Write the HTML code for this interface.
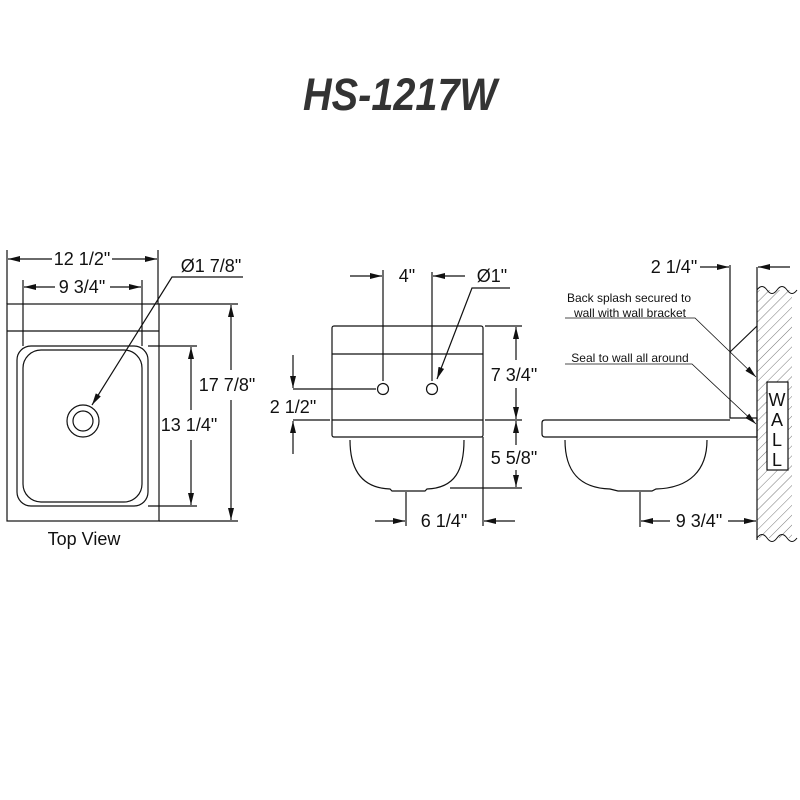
<!DOCTYPE html>
<html><head><meta charset="utf-8"><style>body{margin:0;background:#fff}svg{display:block}text{font-family:"Liberation Sans",sans-serif;fill:#111}</style></head><body>
<svg width="800" height="800" viewBox="0 0 800 800" xmlns="http://www.w3.org/2000/svg">
<defs>
<marker id="a" markerWidth="12" markerHeight="6" refX="12" refY="3" orient="auto" markerUnits="userSpaceOnUse"><path d="M0,0L12,3L0,6z" fill="#111"/></marker>
<pattern id="h" width="7" height="7" patternUnits="userSpaceOnUse" patternTransform="rotate(45)"><line x1="0" y1="0" x2="0" y2="7" stroke="#555" stroke-width="0.8"/></pattern>
</defs>
<text x="400" y="110" font-size="45" font-weight="bold" font-style="italic" text-anchor="middle" textLength="194" lengthAdjust="spacingAndGlyphs" style="fill:#333">HS-1217W</text>
<g fill="none" stroke="#111" stroke-width="1.2">
<rect x="7" y="304" width="152" height="217"/>
<line x1="7" y1="331" x2="159" y2="331"/>
<rect x="17" y="346" width="131" height="160" rx="14"/>
<rect x="23" y="350" width="119" height="152" rx="18"/>
<circle cx="83" cy="421" r="16"/><circle cx="83" cy="421" r="10"/>
<line x1="7" y1="250" x2="7" y2="304"/><line x1="158" y1="250" x2="158" y2="304"/>
<line x1="23" y1="280" x2="23" y2="346"/><line x1="142" y1="280" x2="142" y2="346"/>
<line x1="52" y1="259" x2="8" y2="259" marker-end="url(#a)"/><line x1="112" y1="259" x2="157" y2="259" marker-end="url(#a)"/>
<line x1="55" y1="287" x2="24" y2="287" marker-end="url(#a)"/><line x1="110" y1="287" x2="141" y2="287" marker-end="url(#a)"/>
<path d="M243,277H172L92,405" marker-end="url(#a)"/>
<line x1="159" y1="304" x2="238" y2="304"/><line x1="159" y1="521" x2="238" y2="521"/>
<line x1="231" y1="370" x2="231" y2="305" marker-end="url(#a)"/><line x1="231" y1="400" x2="231" y2="520" marker-end="url(#a)"/>
<line x1="148" y1="346" x2="197" y2="346"/><line x1="148" y1="506" x2="197" y2="506"/>
<line x1="191" y1="410" x2="191" y2="347" marker-end="url(#a)"/><line x1="191" y1="440" x2="191" y2="505" marker-end="url(#a)"/>
<rect x="332" y="326" width="151" height="111" rx="2"/>
<line x1="332" y1="354" x2="483" y2="354"/><line x1="332" y1="420" x2="483" y2="420"/>
<circle cx="383" cy="389" r="5.5"/><circle cx="432" cy="389" r="5.5"/>
<path d="M350,440C350,470 362,488 390,489L392,491H425L427,489C455,488 464,470 464,440"/>
<line x1="383" y1="270" x2="383" y2="381"/><line x1="432" y1="272" x2="432" y2="381"/>
<line x1="350" y1="276" x2="382" y2="276" marker-end="url(#a)"/><line x1="465" y1="276" x2="433" y2="276" marker-end="url(#a)"/>
<path d="M510,288H472L437,379" marker-end="url(#a)"/>
<line x1="485" y1="326" x2="522" y2="326"/><line x1="485" y1="420" x2="522" y2="420"/><line x1="450" y1="488" x2="522" y2="488"/>
<line x1="516" y1="360" x2="516" y2="327" marker-end="url(#a)"/><line x1="516" y1="388" x2="516" y2="419" marker-end="url(#a)"/>
<line x1="516" y1="445" x2="516" y2="421" marker-end="url(#a)"/><line x1="516" y1="470" x2="516" y2="487" marker-end="url(#a)"/>
<line x1="293" y1="389" x2="376" y2="389"/><line x1="293" y1="420" x2="330" y2="420"/>
<line x1="293" y1="355" x2="293" y2="388" marker-end="url(#a)"/><line x1="293" y1="454" x2="293" y2="421" marker-end="url(#a)"/>
<line x1="406" y1="492" x2="406" y2="526"/><line x1="483" y1="437" x2="483" y2="526"/>
<line x1="375" y1="521" x2="405" y2="521" marker-end="url(#a)"/><line x1="515" y1="521" x2="484" y2="521" marker-end="url(#a)"/>
<rect x="757" y="290" width="35" height="248" fill="url(#h)" stroke="none"/>
<path d="M757,290Q762,283 767,290T777,290T787,290T797,290" stroke-width="1"/>
<path d="M757,538Q762,531 767,538T777,538T787,538T797,538" stroke-width="1"/>
<line x1="757" y1="267" x2="757" y2="540"/>
<rect x="767" y="382" width="21" height="88" fill="#fff"/>
<path d="M730,265V418H757V437H545Q542,437 542,434V423Q542,420 545,420H730"/>
<line x1="730" y1="352" x2="757" y2="326"/>
<path d="M565,440C565,470 578,488 610,489L618,491H652L656,489C690,488 707,470 707,440"/>
<line x1="700" y1="267" x2="729" y2="267" marker-end="url(#a)"/><line x1="790" y1="267" x2="758" y2="267" marker-end="url(#a)"/>
<path d="M565,318H695L756,377" stroke-width="0.8" marker-end="url(#a)"/>
<path d="M565,364H692L756,424" stroke-width="0.8" marker-end="url(#a)"/>
<line x1="640" y1="492" x2="640" y2="527"/>
<line x1="670" y1="521" x2="641" y2="521" marker-end="url(#a)"/><line x1="728" y1="521" x2="756" y2="521" marker-end="url(#a)"/>
</g>
<g font-size="18">
<text x="82" y="265" text-anchor="middle">12 1/2"</text>
<text x="82" y="293" text-anchor="middle">9 3/4"</text>
<text x="211" y="272" text-anchor="middle">Ø1 7/8"</text>
<text x="227" y="391" text-anchor="middle">17 7/8"</text>
<text x="189" y="431" text-anchor="middle">13 1/4"</text>
<text x="84" y="545" text-anchor="middle">Top View</text>
<text x="407" y="282" text-anchor="middle">4"</text>
<text x="492" y="282" text-anchor="middle">Ø1"</text>
<text x="514" y="381" text-anchor="middle">7 3/4"</text>
<text x="514" y="464" text-anchor="middle">5 5/8"</text>
<text x="293" y="413" text-anchor="middle">2 1/2"</text>
<text x="444" y="527" text-anchor="middle">6 1/4"</text>
<text x="674" y="273" text-anchor="middle">2 1/4"</text>
<text x="699" y="527" text-anchor="middle">9 3/4"</text>
<text x="777" y="406" text-anchor="middle">W</text>
<text x="777" y="426" text-anchor="middle">A</text>
<text x="777" y="446" text-anchor="middle">L</text>
<text x="777" y="466" text-anchor="middle">L</text>
</g>
<g font-size="12">
<text x="629" y="302" text-anchor="middle">Back splash secured to</text>
<text x="630" y="317" text-anchor="middle">wall with wall bracket</text>
<text x="630" y="362" text-anchor="middle">Seal to wall all around</text>
</g>
</svg>
</body></html>
